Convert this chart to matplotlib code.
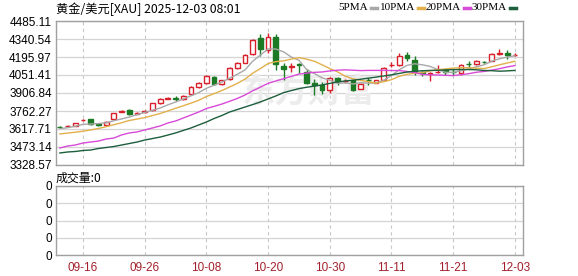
import numpy as np
import matplotlib.pyplot as plt
from matplotlib.lines import Line2D

# ---- data (XAU daily candles, 09-11 .. 12-03) ----
opens = [3636, 3640, 3645, 3686, 3698, 3654, 3650, 3698, 3758, 3770,
         3742, 3756, 3770, 3826, 3862, 3864, 3858, 3899, 3955, 3987,
         4035, 3979, 4019, 4107, 4148, 4220, 4348, 4252, 4356, 4124,
         4112, 4136, 4076, 3987, 3971, 3931, 4027, 4000, 4011, 3939,
         4015, 3990, 4011, 4128, 4132, 4212, 4172, 4072, 4060, 4072,
         4092, 4078, 4068, 4142, 4140, 4158, 4164, 4224, 4228, 4210]
highs = [3642, 3650, 3668, 3698, 3702, 3658, 3678, 3750, 3774, 3778,
         3752, 3772, 3830, 3866, 3878, 3882, 3888, 3960, 3995, 4050,
         4040, 4015, 4112, 4155, 4220, 4340, 4380, 4390, 4380, 4148,
         4148, 4148, 4100, 4019, 3995, 4035, 4035, 4020, 4015, 3985,
         4030, 4015, 4112, 4155, 4228, 4236, 4204, 4085, 4075, 4131,
         4100, 4096, 4140, 4164, 4168, 4164, 4228, 4260, 4250, 4228]
lows = [3626, 3634, 3640, 3682, 3652, 3640, 3646, 3694, 3754, 3730,
        3738, 3750, 3766, 3822, 3858, 3840, 3854, 3895, 3950, 3983,
        3970, 3972, 4015, 4100, 4144, 4212, 4200, 4228, 4090, 4015,
        4075, 4068, 3980, 3890, 3900, 3910, 3975, 3985, 3925, 3935,
        3975, 3985, 4005, 4115, 4120, 4160, 4051, 4040, 4003, 4067,
        4050, 4055, 4050, 4110, 4135, 4150, 4160, 4212, 4180, 4204]
closes = [3632, 3644, 3664, 3690, 3660, 3650, 3674, 3746, 3762, 3738,
          3746, 3762, 3826, 3858, 3867, 3858, 3882, 3955, 3987, 4043,
          3979, 4011, 4107, 4148, 4212, 4332, 4260, 4356, 4140, 4100,
          4124, 4128, 3987, 3975, 3931, 4027, 4003, 4005, 3931, 3979,
          4011, 4011, 4107, 4132, 4204, 4188, 4076, 4067, 4068, 4076,
          4076, 4075, 4132, 4140, 4164, 4155, 4220, 4228, 4212, 4212]

# moving-average values before enough visible closes exist
ma5_head = [3620, 3628, 3640, 3655]
ma10_head = [3578, 3585, 3592, 3600, 3610, 3622, 3636, 3652, 3668]
ma20_head = [3465, 3481, 3489, 3505, 3513, 3521, 3537, 3545, 3570, 3586,
             3594, 3610, 3626, 3642, 3666, 3682, 3706, 3730, 3754]
ma30_head = [3425, 3433, 3437, 3445, 3449, 3461, 3469, 3477, 3489, 3501,
             3513, 3529, 3541, 3553, 3569, 3586, 3606, 3626, 3650, 3674,
             3702, 3726, 3754, 3774, 3794, 3814, 3835, 3859, 3883]

ytick_labels = ["3328.57", "3473.14", "3617.71", "3762.27", "3906.84",
                "4051.41", "4195.97", "4340.54", "4485.11"]
date_idx = [3, 11, 19, 27, 35, 43, 51, 59]
date_labels = ["09-16", "09-26", "10-08", "10-20", "10-30", "11-11", "11-21", "12-03"]
ma_labels = ["5PMA", "10PMA", "20PMA", "30PMA"]
volume = [0] * len(closes)


def sma(vals, n, head):
    vals = np.asarray(vals, float)
    tail = [vals[i - n + 1:i + 1].mean() for i in range(n - 1, len(vals))]
    return np.array(list(head) + tail)


W, H = 578, 276
fig = plt.figure(figsize=(W / 100, H / 100), dpi=100)


def fx(px):
    return px / W


def fy(py):
    return 1 - py / H


L, R = 56, 523
ax = fig.add_axes([fx(L), fy(165), fx(R) - fx(L), fy(21) - fy(165)])
axv = fig.add_axes([fx(L), fy(255), fx(R) - fx(L), fy(186) - fy(255)])

RED = "#d8202a"
GREEN = "#1b7a23"
GRID = "#d4d4d4"
FRAME = "#a0a0a0"
TICKFONT = "Liberation Sans"

x = np.arange(len(closes))
o = np.array(opens, float)
c = np.array(closes, float)
up = c >= o
edge = [RED if u else GREEN for u in up]
face = ["white" if u else GREEN for u in up]
bottoms = np.minimum(o, c)
heights = np.maximum(np.abs(c - o), 0.6)

ax.vlines(x, lows, highs, colors=edge, lw=1, zorder=3)
ax.bar(x, heights, bottom=bottoms, width=0.62, color=face, edgecolor=edge,
       linewidth=1, zorder=4)

ma_colors = ["#a8a8a8", "#e2b04a", "#d84ad8", "#1d5e3c"]
mas = [sma(closes, 5, ma5_head), sma(closes, 10, ma10_head),
       sma(closes, 20, ma20_head), sma(closes, 30, ma30_head)]
for m, col in zip(mas, ma_colors):
    ax.plot(x, m, color=col, lw=1, zorder=5)

yt = [float(v) for v in ytick_labels]
ax.set_ylim(yt[0], yt[-1])
ax.set_yticks(yt)
ax.set_yticklabels(ytick_labels)
xmin, xmax = -0.5, 60.05
for a in (ax, axv):
    a.set_xlim(xmin, xmax)
    a.set_xticks(date_idx)
    a.tick_params(length=0, labelsize=8.5, pad=3)
    for lab in a.get_yticklabels() + a.get_xticklabels():
        lab.set_family(TICKFONT)
    for s in a.spines.values():
        s.set_color(FRAME)
        s.set_linewidth(1)
    a.grid(axis="y", color=GRID, lw=0.9, ls="-")
    a.grid(axis="x", color="#c8c8c8", lw=0.8, ls=(0, (3, 3)))
    a.set_axisbelow(True)
ax.set_xticklabels([])

axv.bar(x, volume, width=0.62, color=RED)
axv.set_ylim(0, 4)
axv.set_yticks([0, 1, 2, 3, 4])
axv.set_yticklabels(["0"] * 5, family=TICKFONT)
axv.set_xticklabels(date_labels, color="#a3202c", family=TICKFONT)
axv.tick_params(axis="x", pad=5)

# watermark
ax.text(0.54, 0.5, "东方财富", transform=ax.transAxes, ha="center", va="center",
        fontsize=24, fontweight="bold", color="#ececec",
        family=["Noto Sans CJK SC", "DejaVu Sans"], zorder=1)

cjk = ["Noto Sans CJK SC", "DejaVu Sans"]
fig.text(fx(56), fy(9), "黄金/美元[XAU] 2025-12-03 08:01", fontsize=8.8,
         family=cjk, va="center", ha="left")
fig.text(fx(56), fy(178), "成交量:0", fontsize=8.6, family=cjk,
         va="center", ha="left")

# legend row
lx = [338, 380, 426, 472]
for px, lab, col in zip(lx, ma_labels, ma_colors):
    t = fig.text(fx(px), fy(8), lab, fontsize=8, family="Liberation Serif",
                 va="center", ha="left")
    fig.canvas.draw()
    bb = t.get_window_extent()
    x0 = bb.x1 + 3
    fig.add_artist(Line2D([x0 / W, (x0 + 6) / W], [fy(8), fy(8)], color=col,
                          lw=2.5, transform=fig.transFigure))

fig.savefig("out.png", dpi=100)
